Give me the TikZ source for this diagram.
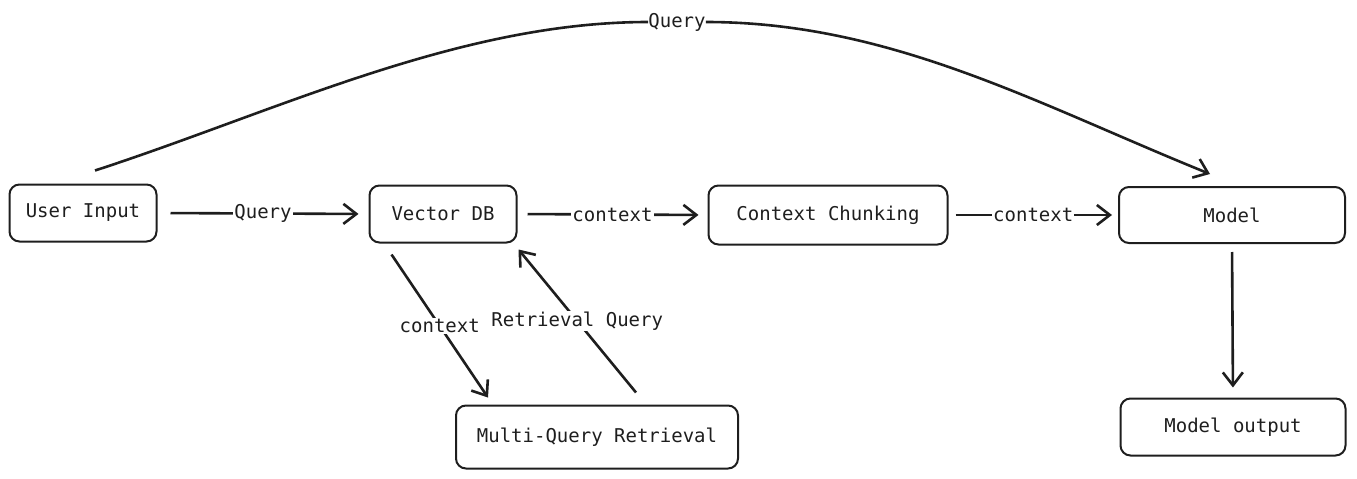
\documentclass[tikz,border=0pt]{standalone}
\usepackage{fontspec}
\setmonofont{DejaVu Sans Mono}
\usetikzlibrary{arrows.meta}
\definecolor{ink}{HTML}{1E1E1E}

\begin{document}
\begin{tikzpicture}[x=1pt,y=1pt,
		box/.style={draw=ink, line width=2pt, rounded corners=10pt, minimum height=57pt,
			text=ink, font=\ttfamily\fontsize{19}{22}\selectfont},
		flow/.style={draw=ink, line width=2.6pt, -{Straight Barb[length=13pt,width=20pt]}},
		lbl/.style={fill=white, inner sep=1pt, text=ink, font=\ttfamily\fontsize{19}{22}\selectfont}]
	\useasboundingbox (0,0) rectangle (1357,-479);
	% boxes
	\node [box, minimum width=147pt] (ui) at (83,-213) {User Input};
	\node [box, minimum width=147pt] (vdb) at (443,-214) {Vector DB};
	\node [box, minimum width=239pt, minimum height=59pt] (cc) at (828,-215) {Context Chunking};
	\node [box, minimum width=226pt, minimum height=56pt] (model) at (1232,-215) {Model};
	\node [box, minimum width=225pt] (out) at (1233,-427) {Model output};
	\node [box, minimum width=282pt, minimum height=63pt] (mqr) at (597,-437) {Multi-Query Retrieval};
	% main row
	\draw [flow, shorten <=13pt, shorten >=10pt] (ui.east) -- node [lbl] {Query} (vdb.west);
	\draw [flow, shorten <=10pt, shorten >=9pt] (vdb.east) -- node [lbl] {context} (cc.west);
	\draw [flow, shorten <=7pt, shorten >=6pt] (cc.east) -- node [lbl] {context} (model.west);
	\draw [flow, shorten <=8pt, shorten >=10pt] (model.south) -- (out.north);
	% retrieval loop
	\draw [flow] ([shift={(23,-11)}]vdb.south west) -- node [lbl] {context} ([shift={(33,7)}]mqr.north west);
	\draw [flow] ([shift={(181,12)}]mqr.north west) -- node [lbl] {Retrieval Query} ([shift={(1,-6)}]vdb.south east);
	% query straight to the model
	\node [lbl, fill=none, inner sep=0pt] (qtop) at (677,-22) {Query};
	\draw [draw=ink, line width=2.6pt] ([shift={(12,13)}]ui.north) to[out=18,in=180,looseness=0.85] (qtop.west);
	\draw [flow] (qtop.east) to[out=0,in=158,looseness=0.9] ([shift={(-22,12)}]model.north);
\end{tikzpicture}
\end{document}
